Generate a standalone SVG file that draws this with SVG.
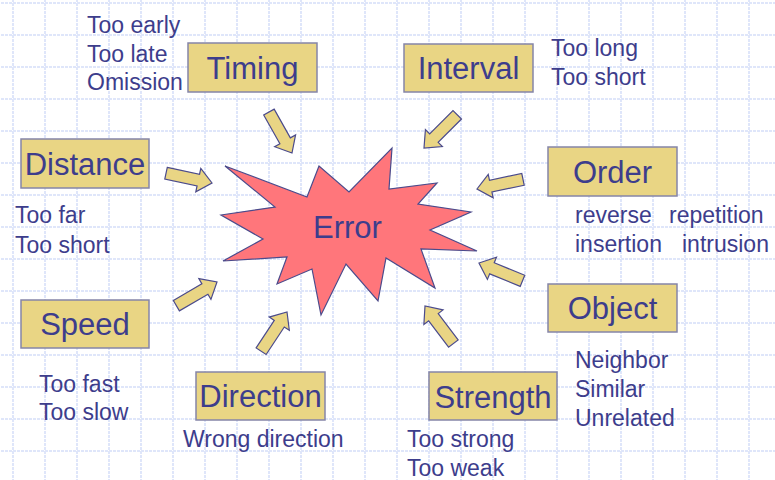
<svg xmlns="http://www.w3.org/2000/svg" width="775" height="480" viewBox="0 0 775 480">
<defs>
<pattern id="grid" x="-3" y="-13" width="32" height="32" patternUnits="userSpaceOnUse">
<path d="M16 0V32M0 16H32" stroke="#dfe6fa" stroke-width="2" stroke-dasharray="3 1" fill="none"/>
</pattern>
<path id="arr" d="M-47,-6 L-14,-6 L-14,-12 L0,0 L-14,12 L-14,6 L-47,6 Z"/>
</defs>
<style>
.box{fill:#e9d584;stroke:#8585a8;stroke-width:1.5}
.lbl{font-family:"Liberation Sans",Arial,sans-serif;font-size:31px;fill:#3d3d8c;text-anchor:middle}
.sub{font-family:"Liberation Sans",Arial,sans-serif;font-size:23px;fill:#3d3d8c}
.arrows use{fill:#e9d584;stroke:#4b4b8c;stroke-width:1.2;stroke-linejoin:miter}
</style>
<rect width="775" height="480" fill="#ffffff"/>
<rect width="775" height="480" fill="url(#grid)"/>

<g id="error">
<polygon points="225,166 307,197 319,166 349,192 392,148 389,189 437,183 418,204 471,212 430,230 477,251 421,249 435,288 386,258 378,301 346,264 321,315 312,269 277,284 287,257 223,261 263,239 221,215 275,207" fill="#ff767b" stroke="#4b4b8c" stroke-width="1.2"/>
<text class="lbl" x="347.5" y="238" font-size="30">Error</text>
</g>

<g id="connectors" class="arrows">
<use href="#arr" transform="translate(292,153) rotate(60.6)"/>
<use href="#arr" transform="translate(424,148) rotate(135)"/>
<use href="#arr" transform="translate(477,189) rotate(168.2)"/>
<use href="#arr" transform="translate(479,263) rotate(202.3)"/>
<use href="#arr" transform="translate(425,306) rotate(232.9)"/>
<use href="#arr" transform="translate(287,312) rotate(-56.6)"/>
<use href="#arr" transform="translate(217,282) rotate(-30.2)"/>
<use href="#arr" transform="translate(212,183) rotate(12)"/>
</g>

<g id="timing">
<rect class="box" x="188" y="43" width="129" height="49"/>
<text class="lbl" x="252.5" y="79">Timing</text>
<text class="sub" x="87" y="33">Too early</text>
<text class="sub" x="87" y="62">Too late</text>
<text class="sub" x="87" y="90">Omission</text>
</g>

<g id="interval">
<rect class="box" x="404" y="44" width="129" height="48"/>
<text class="lbl" x="468.5" y="79">Interval</text>
<text class="sub" x="551" y="56">Too long</text>
<text class="sub" x="551" y="85">Too short</text>
</g>

<g id="distance">
<rect class="box" x="21" y="139" width="128" height="49"/>
<text class="lbl" x="85" y="175">Distance</text>
<text class="sub" x="15" y="223">Too far</text>
<text class="sub" x="15" y="253">Too short</text>
</g>

<g id="order">
<rect class="box" x="548" y="147" width="129" height="49"/>
<text class="lbl" x="612.5" y="183">Order</text>
<text class="sub" x="575" y="223">reverse</text>
<text class="sub" x="669" y="223">repetition</text>
<text class="sub" x="575" y="252">insertion</text>
<text class="sub" x="682" y="252">intrusion</text>
</g>

<g id="speed">
<rect class="box" x="21" y="300" width="128" height="48"/>
<text class="lbl" x="85" y="335">Speed</text>
<text class="sub" x="39" y="392">Too fast</text>
<text class="sub" x="39" y="420">Too slow</text>
</g>

<g id="object">
<rect class="box" x="548" y="284" width="129" height="48"/>
<text class="lbl" x="612.5" y="319">Object</text>
<text class="sub" x="575" y="368">Neighbor</text>
<text class="sub" x="575" y="397">Similar</text>
<text class="sub" x="575" y="426">Unrelated</text>
</g>

<g id="direction">
<rect class="box" x="196" y="372" width="129" height="48"/>
<text class="lbl" x="260.5" y="407">Direction</text>
<text class="sub" x="183" y="447">Wrong direction</text>
</g>

<g id="strength">
<rect class="box" x="429" y="372" width="128" height="48"/>
<text class="lbl" x="493" y="408">Strength</text>
<text class="sub" x="407" y="447">Too strong</text>
<text class="sub" x="407" y="476">Too weak</text>
</g>
</svg>
